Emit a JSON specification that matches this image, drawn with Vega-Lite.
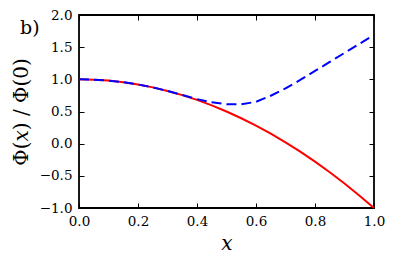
{
  "$schema": "https://vega.github.io/schema/vega-lite/v6.json",
  "width": 295,
  "height": 193,
  "autosize": {"type": "none"},
  "padding": {"left": 79, "top": 15, "right": 42, "bottom": 49},
  "background": "white",
  "config": {
    "view": {"stroke": "black", "strokeWidth": 1.8},
    "font": "DejaVu Serif",
    "axis": {
      "domain": false,
      "grid": false,
      "tickSize": -5,
      "tickColor": "black",
      "tickWidth": 1,
      "labelFlush": false,
      "labelColor": "black",
      "titleFontWeight": "normal",
      "titleColor": "black"
    }
  },
  "title": {
    "text": "b)",
    "anchor": "start",
    "frame": "group",
    "font": "DejaVu Serif",
    "fontSize": 19,
    "fontWeight": "normal",
    "color": "black",
    "dx": -59,
    "dy": 34
  },
  "data": {
    "values": [
      {"x": 0.0, "v": 1.0, "s": "red"},
      {"x": 0.05, "v": 0.995, "s": "red"},
      {"x": 0.1, "v": 0.98, "s": "red"},
      {"x": 0.15, "v": 0.955, "s": "red"},
      {"x": 0.2, "v": 0.92, "s": "red"},
      {"x": 0.25, "v": 0.875, "s": "red"},
      {"x": 0.3, "v": 0.82, "s": "red"},
      {"x": 0.35, "v": 0.755, "s": "red"},
      {"x": 0.4, "v": 0.68, "s": "red"},
      {"x": 0.45, "v": 0.595, "s": "red"},
      {"x": 0.5, "v": 0.5, "s": "red"},
      {"x": 0.55, "v": 0.395, "s": "red"},
      {"x": 0.6, "v": 0.28, "s": "red"},
      {"x": 0.65, "v": 0.155, "s": "red"},
      {"x": 0.7, "v": 0.02, "s": "red"},
      {"x": 0.75, "v": -0.125, "s": "red"},
      {"x": 0.8, "v": -0.28, "s": "red"},
      {"x": 0.85, "v": -0.445, "s": "red"},
      {"x": 0.9, "v": -0.62, "s": "red"},
      {"x": 0.95, "v": -0.805, "s": "red"},
      {"x": 1.0, "v": -1.0, "s": "red"},
      {"x": 0.0, "v": 1.0, "s": "blue"},
      {"x": 0.05, "v": 0.995, "s": "blue"},
      {"x": 0.1, "v": 0.98, "s": "blue"},
      {"x": 0.15, "v": 0.955, "s": "blue"},
      {"x": 0.2, "v": 0.92, "s": "blue"},
      {"x": 0.25, "v": 0.875, "s": "blue"},
      {"x": 0.3, "v": 0.82, "s": "blue"},
      {"x": 0.35, "v": 0.757, "s": "blue"},
      {"x": 0.4, "v": 0.692, "s": "blue"},
      {"x": 0.45, "v": 0.642, "s": "blue"},
      {"x": 0.5, "v": 0.613, "s": "blue"},
      {"x": 0.55, "v": 0.612, "s": "blue"},
      {"x": 0.6, "v": 0.65, "s": "blue"},
      {"x": 0.65, "v": 0.745, "s": "blue"},
      {"x": 0.7, "v": 0.86, "s": "blue"},
      {"x": 0.75, "v": 0.99, "s": "blue"},
      {"x": 0.8, "v": 1.13, "s": "blue"},
      {"x": 0.85, "v": 1.27, "s": "blue"},
      {"x": 0.9, "v": 1.41, "s": "blue"},
      {"x": 0.95, "v": 1.55, "s": "blue"},
      {"x": 1.0, "v": 1.69, "s": "blue"}
    ]
  },
  "resolve": {"axis": {"x": "independent", "y": "independent"}},
  "layer": [
    {
      "transform": [{"filter": "datum.s === 'red'"}],
      "mark": {"type": "line", "color": "red", "strokeWidth": 2},
      "encoding": {
        "x": {
          "field": "x", "type": "quantitative",
          "scale": {"domain": [0, 1], "nice": false},
          "axis": {"orient": "bottom", "title": "x", "titleFont": "DejaVu Serif", "titleFontSize": 20, "titleFontStyle": "italic", "labelFont": "DejaVu Serif", "labelFontSize": 13.5, "values": [0, 0.2, 0.4, 0.6, 0.8, 1.0], "format": ".1f", "labelPadding": 11, "titlePadding": 6}
        },
        "y": {
          "field": "v", "type": "quantitative",
          "scale": {"domain": [-1, 2], "nice": false},
          "axis": {"orient": "left", "title": "Φ(𝑥) / Φ(0)", "titleFont": "DejaVu Serif", "titleFontSize": 20, "labelFont": "DejaVu Serif", "labelFontSize": 13.5, "values": [-1, -0.5, 0, 0.5, 1, 1.5, 2], "format": ".1f", "labelPadding": 12, "titlePadding": 8}
        }
      }
    },
    {
      "transform": [{"filter": "datum.s === 'blue'"}],
      "mark": {"type": "line", "color": "blue", "strokeWidth": 2, "strokeDash": [10, 5]},
      "encoding": {
        "x": {
          "field": "x", "type": "quantitative",
          "scale": {"domain": [0, 1], "nice": false},
          "axis": {"orient": "top", "title": null, "labels": false, "values": [0, 0.2, 0.4, 0.6, 0.8, 1.0]}
        },
        "y": {
          "field": "v", "type": "quantitative",
          "scale": {"domain": [-1, 2], "nice": false},
          "axis": {"orient": "right", "title": null, "labels": false, "values": [-1, -0.5, 0, 0.5, 1, 1.5, 2]}
        }
      }
    }
  ]
}
